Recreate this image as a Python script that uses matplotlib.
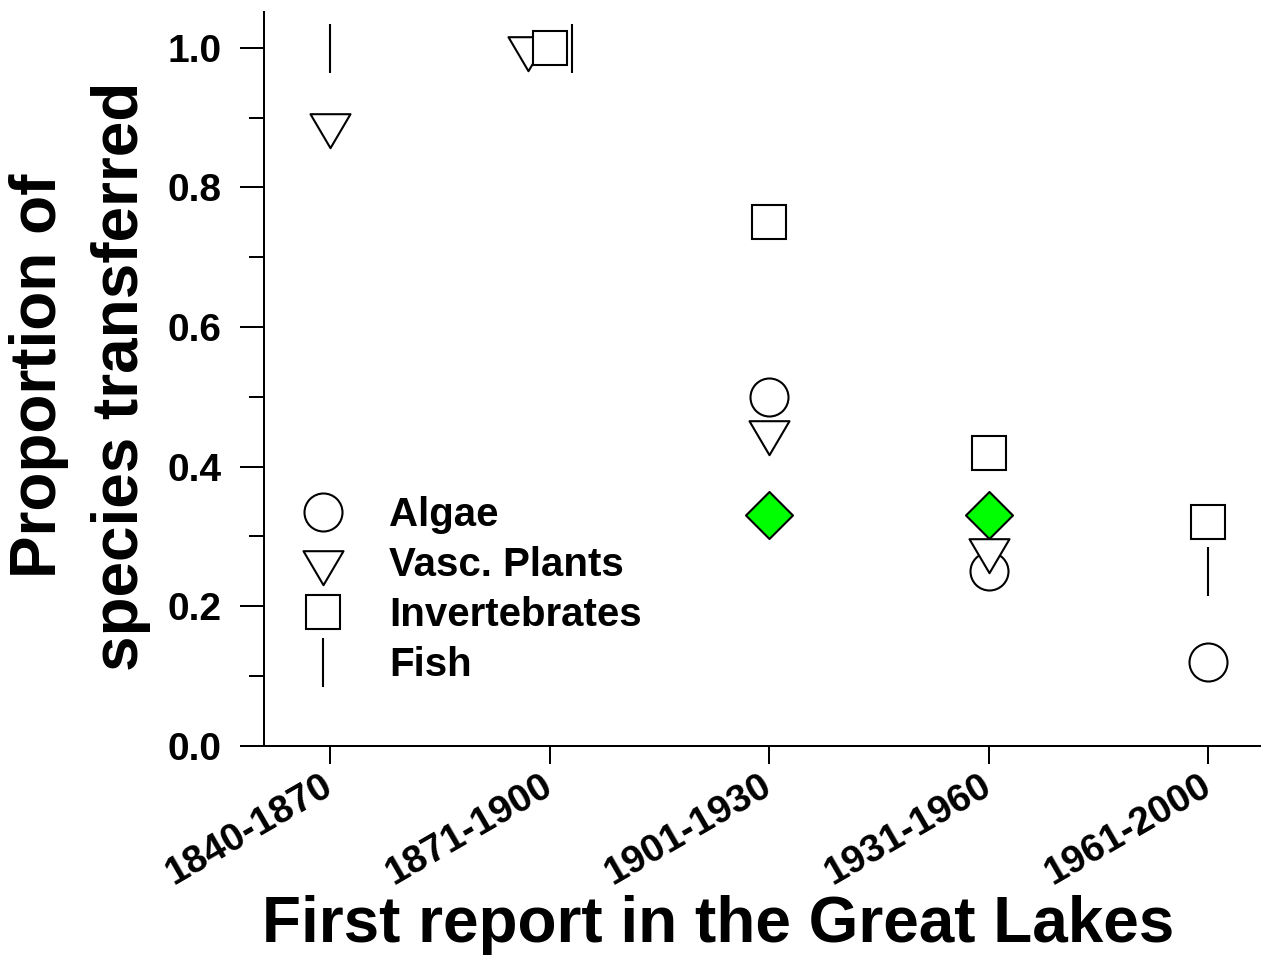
import numpy as np
import matplotlib
matplotlib.use("Agg")
import matplotlib.pyplot as plt
from matplotlib.path import Path
from matplotlib.markers import MarkerStyle

# ---- data -------------------------------------------------------------
categories = ["1840-1870", "1871-1900", "1901-1930", "1931-1960", "1961-2000"]
algae = [np.nan, np.nan, 0.50, 0.25, 0.12]
vasc_plants = [0.89, 1.00, 0.45, 0.28, np.nan]
invertebrates = [np.nan, 1.00, 0.75, 0.42, 0.32]
fish = [1.00, 1.00, np.nan, np.nan, 0.25]
all_taxa = [np.nan, np.nan, 0.33, 0.33, np.nan]

y_ticks = [0.0, 0.2, 0.4, 0.6, 0.8, 1.0]
y_minor = [0.1, 0.3, 0.5, 0.7, 0.9]

# small horizontal nudges so coincident symbols stay visible
vasc_shift = [0, -0.1, 0, 0, 0]
fish_shift = [0, 0.1, 0, 0, 0]

# ---- style ------------------------------------------------------------
plt.rcParams["font.family"] = ["Liberation Sans", "DejaVu Sans"]
plt.rcParams["font.weight"] = "bold"

PX = 0.72  # points per pixel at 100 dpi
EW = 1.5   # outline width (pt)

# down-pointing triangle centred on its centroid
tri_verts = [(-20, 11.3), (20, 11.3), (0, -22.7), (-20, 11.3)]
tri_path = Path(tri_verts, [Path.MOVETO, Path.LINETO, Path.LINETO, Path.CLOSEPOLY])
tri_marker = MarkerStyle(tri_path, joinstyle="miter")
diamond_path = Path([(0, 1), (1, 0), (0, -1), (-1, 0), (0, 1)],
                    [Path.MOVETO, Path.LINETO, Path.LINETO, Path.LINETO, Path.CLOSEPOLY])
diamond_marker = MarkerStyle(diamond_path, joinstyle="miter")

fig = plt.figure(figsize=(12.61, 9.57), dpi=100)
W, H = 1261.0, 957.0
left_px, right_px, bottom_px, top_px = 264.3, 1261.0, 745.7, 11.7
ax = fig.add_axes([left_px / W, 1 - bottom_px / H,
                   (right_px - left_px) / W, (bottom_px - top_px) / H])

x = np.arange(len(categories))

common = dict(linestyle="none", markeredgecolor="black", markeredgewidth=EW)
ax.plot(x, algae, marker="o", markersize=38 * PX, markerfacecolor="white",
        label="Algae", zorder=3, **common)
ax.plot(x + np.array(vasc_shift), vasc_plants, marker=tri_marker,
        markersize=2 * 22.7 * PX, markerfacecolor="white",
        label="Vasc. Plants", zorder=4, **common)
ax.plot(x, invertebrates, marker="s", markersize=34 * PX, markerfacecolor="white",
        label="Invertebrates", zorder=5, **common)
ax.plot(x, all_taxa, marker=diamond_marker, markersize=47 * PX,
        markerfacecolor="#00ff00", label="_nolegend_", zorder=6, **common)
ax.plot(x + np.array(fish_shift), fish, marker="|", markersize=49 * PX,
        label="Fish", zorder=7, **common)

# ---- axes -------------------------------------------------------------
ax.set_xlim(-0.3, -0.3 + (right_px - left_px) / 219.5)
ax.set_ylim(0, (bottom_px - top_px) / 697.9)

for side in ("top", "right"):
    ax.spines[side].set_visible(False)
for side in ("left", "bottom"):
    ax.spines[side].set_linewidth(1.44)

ax.set_yticks(y_ticks)
ax.set_yticklabels([f"{v:.1f}" for v in y_ticks])
ax.set_yticks(y_minor, minor=True)
ax.tick_params(axis="y", which="major", length=17.5, width=1.44, pad=13.5,
               labelsize=28)
ax.tick_params(axis="y", which="minor", length=10.5, width=1.44)

ax.set_xticks(x)
ax.set_xticklabels(categories)
ax.tick_params(axis="x", which="major", length=13, width=1.44, pad=14,
               labelsize=28)
for lab in ax.get_xticklabels():
    lab.set_rotation(30)
    lab.set_ha("right")
    lab.set_va("center")
    lab.set_rotation_mode("anchor")

fig.text(718 / W, 1 - 942 / H, "First report in the Great Lakes",
         fontsize=46, fontweight="bold", ha="center", va="baseline")
fig.text(80 / W, 1 - 376 / H, "Proportion of\nspecies transferred",
         fontsize=46, fontweight="bold", rotation=90, ha="center", va="center",
         multialignment="center", linespacing=1.45)

# ---- legend -----------------------------------------------------------
leg_fs = 29
ax.legend(loc="upper left", bbox_to_anchor=((302.5 - left_px) / (right_px - left_px),
                                            (bottom_px - 496.0) / (bottom_px - top_px)),
          frameon=False, numpoints=1, handlelength=1.0,
          handletextpad=1.15, labelspacing=0.3, borderpad=0, borderaxespad=0,
          prop={"weight": "bold", "size": leg_fs})

fig.savefig("out.png", dpi=100)
